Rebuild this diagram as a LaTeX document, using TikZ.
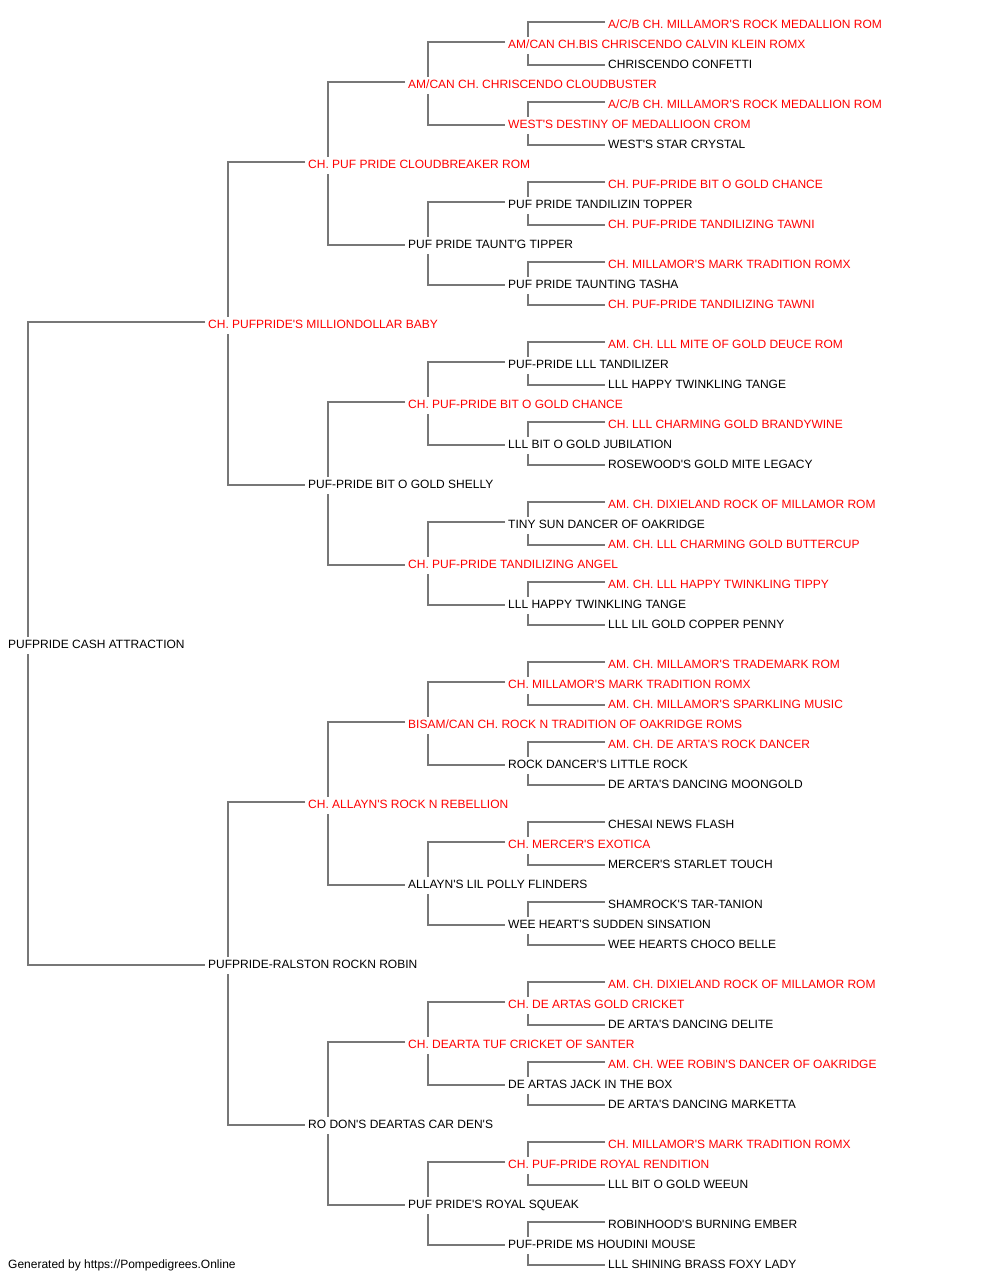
\documentclass[tikz,border=0pt]{standalone}
\usepackage{fontspec}
\setmainfont{Liberation Sans}
\usetikzlibrary{calc,backgrounds}
\definecolor{linegray}{HTML}{777777}
\definecolor{champred}{HTML}{FF0000}
\newcommand\apo{\textquotesingle}
\tikzset{
  person/.style={anchor=base west, inner xsep=0pt, inner ysep=3pt, text height=9pt, text depth=2pt, fill=white, font=\fontsize{12}{14}\selectfont, text=black},
  champ/.style={person, text=champred},
  conn/.style={draw=linegray, line width=1.5pt},
  footer/.style={anchor=base west, inner sep=0pt, font=\fontsize{12}{14}\selectfont, text=black}
}
\begin{document}
\begin{tikzpicture}[x=1pt,y=-1pt]
\useasboundingbox (0,0) rectangle (1000,1280);
% generation 0
\node[person] (r) at (8,648.5) {PUFPRIDE CASH ATTRACTION};
% generation 1
\node[champ] (a0) at (208,328.5) {CH. PUFPRIDE\apo{}S MILLIONDOLLAR BABY};
\node[person] (a1) at (208,968.5) {PUFPRIDE-RALSTON ROCKN ROBIN};
% generation 2
\node[champ] (b0) at (308,168.5) {CH. PUF PRIDE CLOUDBREAKER ROM};
\node[person] (b1) at (308,488.5) {PUF-PRIDE BIT O GOLD SHELLY};
\node[champ] (b2) at (308,808.5) {CH. ALLAYN\apo{}S ROCK N REBELLION};
\node[person] (b3) at (308,1128.5) {RO DON\apo{}S DEARTAS CAR DEN\apo{}S};
% generation 3
\node[champ] (c0) at (408,88.5) {AM/CAN CH. CHRISCENDO CLOUDBUSTER};
\node[person] (c1) at (408,248.5) {PUF PRIDE TAUNT\apo{}G TIPPER};
\node[champ] (c2) at (408,408.5) {CH. PUF-PRIDE BIT O GOLD CHANCE};
\node[champ] (c3) at (408,568.5) {CH. PUF-PRIDE TANDILIZING ANGEL};
\node[champ] (c4) at (408,728.5) {BISAM/CAN CH. ROCK N TRADITION OF OAKRIDGE ROMS};
\node[person] (c5) at (408,888.5) {ALLAYN\apo{}S LIL POLLY FLINDERS};
\node[champ] (c6) at (408,1048.5) {CH. DEARTA TUF CRICKET OF SANTER};
\node[person] (c7) at (408,1208.5) {PUF PRIDE\apo{}S ROYAL SQUEAK};
% generation 4
\node[champ] (d0) at (508,48.5) {AM/CAN CH.BIS CHRISCENDO CALVIN KLEIN ROMX};
\node[champ] (d1) at (508,128.5) {WEST\apo{}S DESTINY OF MEDALLIOON CROM};
\node[person] (d2) at (508,208.5) {PUF PRIDE TANDILIZIN TOPPER};
\node[person] (d3) at (508,288.5) {PUF PRIDE TAUNTING TASHA};
\node[person] (d4) at (508,368.5) {PUF-PRIDE LLL TANDILIZER};
\node[person] (d5) at (508,448.5) {LLL BIT O GOLD JUBILATION};
\node[person] (d6) at (508,528.5) {TINY SUN DANCER OF OAKRIDGE};
\node[person] (d7) at (508,608.5) {LLL HAPPY TWINKLING TANGE};
\node[champ] (d8) at (508,688.5) {CH. MILLAMOR\apo{}S MARK TRADITION ROMX};
\node[person] (d9) at (508,768.5) {ROCK DANCER\apo{}S LITTLE ROCK};
\node[champ] (d10) at (508,848.5) {CH. MERCER\apo{}S EXOTICA};
\node[person] (d11) at (508,928.5) {WEE HEART\apo{}S SUDDEN SINSATION};
\node[champ] (d12) at (508,1008.5) {CH. DE ARTAS GOLD CRICKET};
\node[person] (d13) at (508,1088.5) {DE ARTAS JACK IN THE BOX};
\node[champ] (d14) at (508,1168.5) {CH. PUF-PRIDE ROYAL RENDITION};
\node[person] (d15) at (508,1248.5) {PUF-PRIDE MS HOUDINI MOUSE};
% generation 5
\node[champ] (e0) at (608,28.5) {A/C/B CH. MILLAMOR\apo{}S ROCK MEDALLION ROM};
\node[person] (e1) at (608,68.5) {CHRISCENDO CONFETTI};
\node[champ] (e2) at (608,108.5) {A/C/B CH. MILLAMOR\apo{}S ROCK MEDALLION ROM};
\node[person] (e3) at (608,148.5) {WEST\apo{}S STAR CRYSTAL};
\node[champ] (e4) at (608,188.5) {CH. PUF-PRIDE BIT O GOLD CHANCE};
\node[champ] (e5) at (608,228.5) {CH. PUF-PRIDE TANDILIZING TAWNI};
\node[champ] (e6) at (608,268.5) {CH. MILLAMOR\apo{}S MARK TRADITION ROMX};
\node[champ] (e7) at (608,308.5) {CH. PUF-PRIDE TANDILIZING TAWNI};
\node[champ] (e8) at (608,348.5) {AM. CH. LLL MITE OF GOLD DEUCE ROM};
\node[person] (e9) at (608,388.5) {LLL HAPPY TWINKLING TANGE};
\node[champ] (e10) at (608,428.5) {CH. LLL CHARMING GOLD BRANDYWINE};
\node[person] (e11) at (608,468.5) {ROSEWOOD\apo{}S GOLD MITE LEGACY};
\node[champ] (e12) at (608,508.5) {AM. CH. DIXIELAND ROCK OF MILLAMOR ROM};
\node[champ] (e13) at (608,548.5) {AM. CH. LLL CHARMING GOLD BUTTERCUP};
\node[champ] (e14) at (608,588.5) {AM. CH. LLL HAPPY TWINKLING TIPPY};
\node[person] (e15) at (608,628.5) {LLL LIL GOLD COPPER PENNY};
\node[champ] (e16) at (608,668.5) {AM. CH. MILLAMOR\apo{}S TRADEMARK ROM};
\node[champ] (e17) at (608,708.5) {AM. CH. MILLAMOR\apo{}S SPARKLING MUSIC};
\node[champ] (e18) at (608,748.5) {AM. CH. DE ARTA\apo{}S ROCK DANCER};
\node[person] (e19) at (608,788.5) {DE ARTA\apo{}S DANCING MOONGOLD};
\node[person] (e20) at (608,828.5) {CHESAI NEWS FLASH};
\node[person] (e21) at (608,868.5) {MERCER\apo{}S STARLET TOUCH};
\node[person] (e22) at (608,908.5) {SHAMROCK\apo{}S TAR-TANION};
\node[person] (e23) at (608,948.5) {WEE HEARTS CHOCO BELLE};
\node[champ] (e24) at (608,988.5) {AM. CH. DIXIELAND ROCK OF MILLAMOR ROM};
\node[person] (e25) at (608,1028.5) {DE ARTA\apo{}S DANCING DELITE};
\node[champ] (e26) at (608,1068.5) {AM. CH. WEE ROBIN\apo{}S DANCER OF OAKRIDGE};
\node[person] (e27) at (608,1108.5) {DE ARTA\apo{}S DANCING MARKETTA};
\node[champ] (e28) at (608,1148.5) {CH. MILLAMOR\apo{}S MARK TRADITION ROMX};
\node[person] (e29) at (608,1188.5) {LLL BIT O GOLD WEEUN};
\node[person] (e30) at (608,1228.5) {ROBINHOOD\apo{}S BURNING EMBER};
\node[person] (e31) at (608,1268.5) {LLL SHINING BRASS FOXY LADY};
% footer
\node[footer] (foot) at (8,1268.5) {Generated by https://Pompedigrees.Online};
% connectors
\begin{scope}[on background layer]
\fill[white] (0,0) rectangle (1000,1280);
\draw[conn] ($(a0.base west)+(-3,-6.5)$) -| ($(r.base west)+(20,0)$) |- ($(a1.base west)+(-3,-3.5)$);
\foreach \i in {0,1} {
  \pgfmathtruncatemacro\t{2*\i}
  \pgfmathtruncatemacro\u{2*\i+1}
  \draw[conn] ($(b\t.base west)+(-3,-6.5)$) -| ($(a\i.base west)+(20,0)$) |- ($(b\u.base west)+(-3,-3.5)$);
}
\foreach \i in {0,...,3} {
  \pgfmathtruncatemacro\t{2*\i}
  \pgfmathtruncatemacro\u{2*\i+1}
  \draw[conn] ($(c\t.base west)+(-3,-6.5)$) -| ($(b\i.base west)+(20,0)$) |- ($(c\u.base west)+(-3,-3.5)$);
}
\foreach \i in {0,...,7} {
  \pgfmathtruncatemacro\t{2*\i}
  \pgfmathtruncatemacro\u{2*\i+1}
  \draw[conn] ($(d\t.base west)+(-3,-6.5)$) -| ($(c\i.base west)+(20,0)$) |- ($(d\u.base west)+(-3,-3.5)$);
}
\foreach \i in {0,...,15} {
  \pgfmathtruncatemacro\t{2*\i}
  \pgfmathtruncatemacro\u{2*\i+1}
  \draw[conn] ($(e\t.base west)+(-3,-6.5)$) -| ($(d\i.base west)+(20,0)$) |- ($(e\u.base west)+(-3,-3.5)$);
}
\end{scope}
\end{tikzpicture}
\end{document}
